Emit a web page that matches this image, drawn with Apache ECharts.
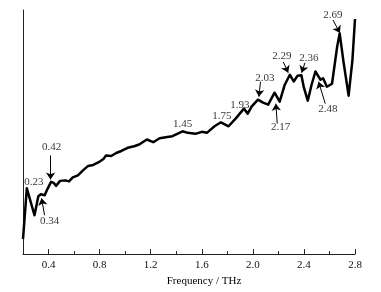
<!DOCTYPE html>
<html>
<head>
<meta charset="utf-8">
<script src="https://cdn.jsdelivr.net/npm/echarts@6/dist/echarts.min.js"></script>
<style>
  html, body { margin: 0; padding: 0; background: #fff; }
  #chart { width: 381px; height: 292px; }
</style>
</head>
<body>
<div id="chart"></div>
<script>
// spectrum (freq in THz, amplitude in arbitrary units)
var freq = [0.20, 0.23, 0.29, 0.32, 0.34, 0.37, 0.39, 0.42, 0.44, 0.46, 0.49, 0.53, 0.56, 0.59,
  0.63, 0.67, 0.71, 0.75, 0.79, 0.83, 0.85, 0.89, 0.93, 0.97, 1.02, 1.07, 1.11, 1.17, 1.22,
  1.27, 1.33, 1.37, 1.45, 1.49, 1.55, 1.60, 1.64, 1.70, 1.75, 1.81, 1.87, 1.93, 1.96, 1.99,
  2.04, 2.08, 2.12, 2.17, 2.21, 2.25, 2.29, 2.32, 2.35, 2.38, 2.40, 2.43, 2.46, 2.49, 2.53,
  2.55, 2.58, 2.62, 2.66, 2.68, 2.71, 2.75, 2.78, 2.80];
var amp = [15, 66, 39, 58, 60, 59, 65, 72.5, 71.5, 68.5, 73.5, 74, 73, 77,
  79, 84, 88.5, 89.5, 92, 95.5, 99, 98.5, 101.5, 103.5, 106.7, 108.3, 110, 115, 112.3,
  116.3, 117.5, 118.3, 123.3, 121.7, 120.7, 122.7, 121.7, 128.3, 132.3, 128.3, 136.7, 146, 141, 148,
  155, 152, 150, 162, 153, 170, 180, 173.3, 179, 179.5, 167, 154, 170, 183.3, 175,
  176.5, 168, 171, 208, 221.5, 193, 159, 195, 236];

var xMajor = [0.4, 0.8, 1.2, 1.6, 2.0, 2.4, 2.8];
var xMinor = [0.6, 1.0, 1.4, 1.8, 2.2, 2.6];

// peak labels: text, where the text sits, and arrow start/end (null = no arrow)
var peakNames = ['0.23', '0.34', '0.42', '1.45', '1.75', '1.93', '2.03', '2.17', '2.29', '2.36', '2.48', '2.69'];
var peakTextAt = [[0.286, 72], [0.408, 33], [0.424, 107], [1.451, 130], [1.757, 138], [1.898, 150],
  [2.094, 177], [2.217, 127], [2.227, 199], [2.439, 197], [2.588, 146], [2.627, 240]];
var arrowFrom = [null, [0.369, 39], [0.416, 99], null, null, null,
  [2.060, 173], [2.191, 131], [2.238, 193], [2.408, 192], [2.567, 151], [2.627, 235]];
var arrowTo = [null, [0.345, 56], [0.416, 75], null, null, null,
  [2.047, 158], [2.180, 151], [2.277, 182], [2.382, 182], [2.515, 173], [2.682, 222]];

var FONT = 'Liberation Serif';

var lineData = freq.map(function (f, i) { return [f, amp[i]]; });
var textData = peakNames.map(function (n, i) { return { name: n, value: peakTextAt[i] }; });
var arrows = [];
arrowFrom.forEach(function (a, i) {
  if (a) arrows.push([{ coord: a }, { coord: arrowTo[i] }]);
});

var chart = echarts.init(document.getElementById('chart'));
chart.setOption({
  animation: false,
  backgroundColor: '#fff',
  grid: { left: 23, right: 26, top: 10, bottom: 37 },
  xAxis: [{
    type: 'value', min: 0.2, max: 2.8,
    name: 'Frequency / THz', nameLocation: 'middle', nameGap: 14,
    nameTextStyle: { fontFamily: FONT, fontSize: 11, color: '#000', padding: [0, 0, 0, 30] },
    axisLine: { lineStyle: { color: '#222', width: 1 } },
    axisTick: { inside: true, length: 5, customValues: xMajor, lineStyle: { color: '#222' } },
    axisLabel: {
      customValues: xMajor, margin: 6, fontFamily: FONT, fontSize: 11, color: '#111',
      formatter: function (v) { return v.toFixed(1); }
    },
    splitLine: { show: false }
  }, {
    type: 'value', min: 0.2, max: 2.8, position: 'bottom',
    axisLine: { show: false },
    axisTick: { inside: true, length: 3, customValues: xMinor, lineStyle: { color: '#222' } },
    axisLabel: { show: false },
    splitLine: { show: false }
  }],
  yAxis: {
    type: 'value', min: 0, max: 245,
    axisLine: { show: true, lineStyle: { color: '#222', width: 1 } },
    axisTick: { show: false },
    axisLabel: { show: false },
    splitLine: { show: false }
  },
  series: [{
    type: 'line',
    data: lineData,
    showSymbol: false,
    lineStyle: { color: '#000', width: 2.5, join: 'round' },
    markLine: {
      silent: true,
      symbol: ['none', 'arrow'],
      symbolSize: 7,
      label: { show: false },
      lineStyle: { color: '#000', width: 1, type: 'solid' },
      data: arrows
    }
  }, {
    type: 'scatter',
    data: textData,
    symbolSize: 0,
    label: {
      show: true, position: 'inside',
      formatter: function (p) { return p.name; },
      fontFamily: FONT, fontSize: 11, color: '#000'
    }
  }]
});
</script>
</body>
</html>
